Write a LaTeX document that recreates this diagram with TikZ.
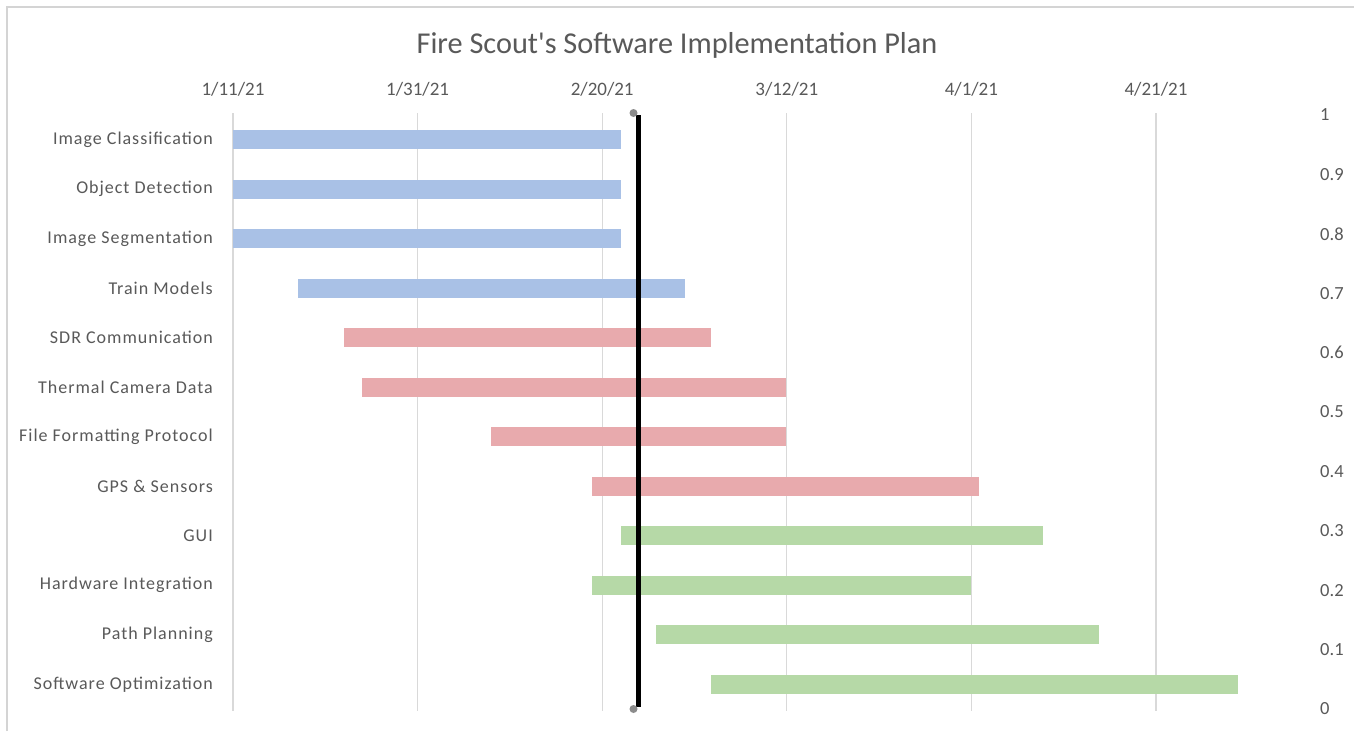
\documentclass[tikz,border=0pt]{standalone}
\usepackage{fontspec}
\setmainfont{Carlito}
\newfontfamily\labelfont[LetterSpace=5.5]{Carlito}

\definecolor{txt}{HTML}{595959}
\definecolor{gridc}{HTML}{D9D9D9}
\definecolor{framec}{HTML}{D4D4D4}
\definecolor{barblue}{HTML}{A9C1E6}
\definecolor{barred}{HTML}{E8AAAD}
\definecolor{bargreen}{HTML}{B6D9A7}
\definecolor{markc}{HTML}{8C8C8C}

\tikzset{
  titlelbl/.style={text=txt, inner sep=0pt, font=\fontsize{30.3}{34}\selectfont},
  tasklbl/.style={anchor=east, text=txt, inner sep=0pt, font=\labelfont\fontsize{18}{20}\selectfont},
  datelbl/.style={text=txt, inner sep=0pt, font=\fontsize{19}{21}\selectfont},
  axislbl/.style={anchor=west, text=txt, inner sep=0pt, font=\fontsize{18.5}{21}\selectfont},
  gridline/.style={draw=gridc, line width=1.2pt},
  todayline/.style={draw=black, line width=4.5pt},
  todaymark/.style={fill=markc},
}

\begin{document}
\begin{tikzpicture}[x=1pt, y=-1pt]
  \useasboundingbox (0,0) rectangle (1354,731);
  \fill[white] (0,0) rectangle (1354,731);

  % chart frame (top and left edges)
  \draw[framec, line width=2pt] (7,731) -- (7,7) -- (1354,7);

  % title
  \node[titlelbl] (title) at (677,45) {Fire Scout\textquotesingle s Software Implementation Plan};

  % date grid and labels (20-day steps)
  \foreach \d [count=\k from 0] in {1/11/21,1/31/21,2/20/21,3/12/21,4/1/21,4/21/21} {
    \pgfmathsetmacro\gx{233+184.6*\k}
    \draw[gridline] (\gx,113) -- (\gx,711);
    \node[datelbl] (date\k) at (\gx,89) {\d};
  }

  % secondary value axis
  \foreach \v [count=\k from 0] in {1,0.9,0.8,0.7,0.6,0.5,0.4,0.3,0.2,0.1,0} {
    \node[axislbl] (axis\k) at (1320,{115+59.4*\k}) {\v};
  }

  % task bars: start/end/colour/label
  \foreach \s/\e/\c/\t [count=\i from 0] in {
      233/621/barblue/{Image Classification},
      233/621/barblue/{Object Detection},
      233/621/barblue/{Image Segmentation},
      298/685/barblue/{Train Models},
      344/711/barred/{SDR Communication},
      362/786/barred/{Thermal Camera Data},
      491/786/barred/{File Formatting Protocol},
      592/979/barred/{GPS \& Sensors},
      621/1043/bargreen/{GUI},
      592/971/bargreen/{Hardware Integration},
      656/1099/bargreen/{Path Planning},
      711/1238/bargreen/{Software Optimization}} {
    \pgfmathsetmacro\yc{139.75+49.5*\i}
    \fill[\c] (\s,{\yc-9.3}) rectangle (\e,{\yc+9.3});
    \node[tasklbl] (task\i) at (213,\yc) {\t};
  }

  % current-date marker
  \coordinate (nowtop) at (638.5,115);
  \coordinate (nowbot) at (638.5,707);
  \draw[todayline] (nowtop) -- (nowbot);
  \fill[todaymark] (633.5,113) circle (4);
  \fill[todaymark] (633.5,709) circle (4);
\end{tikzpicture}
\end{document}
